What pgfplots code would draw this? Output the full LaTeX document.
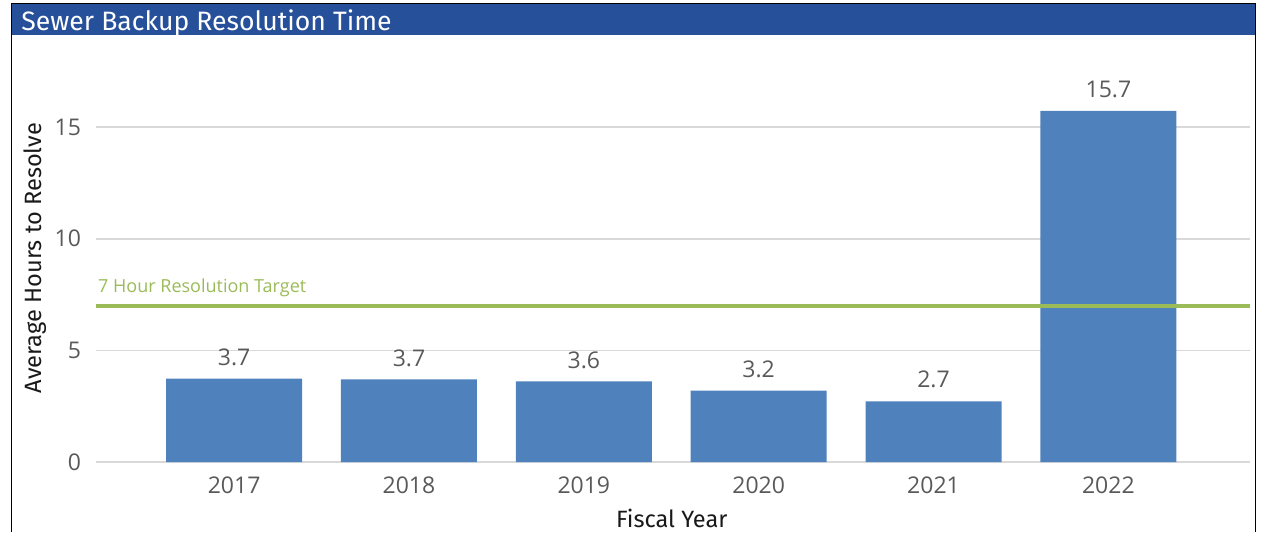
\documentclass[border=0pt]{standalone}
\usepackage{pgfplots}
\pgfplotsset{compat=1.18}
\usepackage{fontspec}
\setmainfont{Open Sans}
\newfontfamily\dinfont{Fira Sans}
\definecolor{barblue}{HTML}{4F81BD}
\definecolor{titleblue}{HTML}{27509B}
\definecolor{tgtgreen}{HTML}{9BBB59}
\definecolor{gridgrey}{HTML}{D9D9D9}
\definecolor{ticktext}{HTML}{595959}
\begin{document}
\begin{tikzpicture}
\begin{scope}[x=0.5pt,y=-0.5pt]
  \path[use as bounding box] (0,0) rectangle (1262,532);
  \fill[titleblue] (12,4) rectangle (1255,35);
  \draw[black,line width=0.9pt] (11.5,532) -- (11.5,3.5) -- (1255.5,3.5) -- (1255.5,532);
  \node[anchor=base west,text=white,inner sep=0pt,font=\dinfont\fontsize{13.3}{15}\selectfont] at (21,30) {Sewer Backup Resolution Time};
\end{scope}
\begin{axis}[
  at={(48pt,-231pt)}, anchor=south west,
  scale only axis, width=577pt, height=189.8pt,
  xmin=-0.79, xmax=5.81, ymin=0, ymax=17,
  axis line style={draw=none},
  major tick style={draw=none},
  /pgf/number format/assume math mode=true,
  ytick={0,5,10,15},
  ymajorgrids, grid style={gridgrey,line width=0.8pt},
  xtick=data,
  xticklabels={2017,2018,2019,2020,2021,2022},
  ticklabel style={text=ticktext,font=\fontsize{11.5}{13}\selectfont},
  yticklabel style={xshift=-4pt},
  xticklabel style={yshift=-4pt},
  ylabel={Average Hours to Resolve},
  ylabel style={at={(axis description cs:-0.0529,0.537)},anchor=center,rotate=0,font=\dinfont\fontsize{11.8}{13}\selectfont,text=black!90},
  xlabel={Fiscal Year},
  xlabel style={at={(axis description cs:0.499,-0.1475)},anchor=center,font=\dinfont\fontsize{11.8}{13}\selectfont,text=black!90},
  clip=false,
]
\addplot[ybar, bar width=68pt, fill=barblue, draw=none,
  nodes near coords, point meta=explicit symbolic,
  nodes near coords style={text=ticktext,font=\fontsize{11.5}{13}\selectfont,anchor=south,yshift=3pt}]
  table[meta=label] {
x y label
0 3.74 3.7
1 3.70 3.7
2 3.61 3.6
3 3.20 3.2
4 2.72 2.7
5 15.72 15.7
};
\addplot[tgtgreen, line width=2.2pt] coordinates {(-0.79,7) (5.81,7)}
  node[pos=0, anchor=base west, inner sep=0pt, yshift=6.5pt, text=tgtgreen, font=\fontsize{9}{11}\selectfont] {7 Hour Resolution Target};
\end{axis}
\end{tikzpicture}
\end{document}
